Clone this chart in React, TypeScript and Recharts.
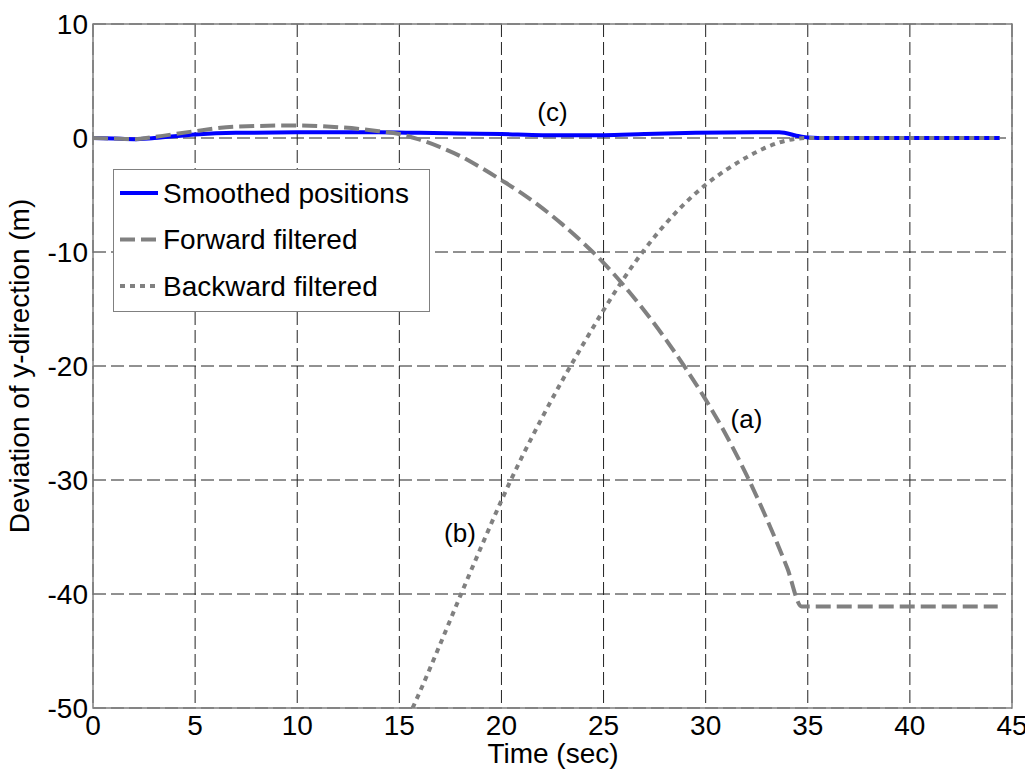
import React from 'react';
import {
  LineChart, Line, XAxis, YAxis, CartesianGrid, Legend, ReferenceArea, ReferenceDot,
} from 'recharts';

const FONT = 'Liberation Sans, Arial, Helvetica, sans-serif';

const xTicks = [0, 5, 10, 15, 20, 25, 30, 35, 40, 45];
const yTicks = [-50, -40, -30, -20, -10, 0, 10];

// Smoothed positions (c)
const smoothedT = [0, 1, 2, 3, 5, 7, 10, 12, 14, 16, 18, 20, 22, 25, 27, 29.5, 33.6, 34.6, 35, 36, 44.4];
const smoothedV = [0, -0.05, -0.1, 0, 0.3, 0.45, 0.5, 0.5, 0.5, 0.45, 0.4, 0.35, 0.25, 0.25, 0.35, 0.45, 0.5, 0.15, 0.05, 0, 0];

// Forward filtered (a)
const forwardT = [0, 1, 2, 3, 5, 7, 10, 12, 14, 15, 16, 17, 18, 19, 20, 21, 22, 23, 24, 25, 26, 27, 28, 29, 30, 31, 32, 33, 34, 34.7, 44.3];
const forwardV = [0, -0.05, -0.1, 0.1, 0.6, 1.0, 1.1, 0.95, 0.6, 0.35, -0.15, -0.8, -1.6, -2.6, -3.7, -4.85, -6.15, -7.6, -9.2, -10.95, -12.95, -15.15, -17.55, -20.15, -22.95, -26.05, -29.55, -33.45, -37.75, -41.1, -41.1];

// Backward filtered (b)
const backwardT = [15.65, 16, 17, 18, 19, 20, 21, 22, 23, 24, 25, 26, 27, 28, 29, 30, 31, 32, 33, 34, 35, 44.4];
const backwardV = [-50, -48.6, -44.4, -40.1, -35.9, -31.8, -28.0, -24.5, -21.2, -18.1, -15.1, -12.3, -9.8, -7.6, -5.7, -4.1, -2.8, -1.7, -0.8, -0.2, 0, 0];

const toRows = (t: number[], v: number[]) => t.map((x, i) => ({ t: x, v: v[i] }));
const smoothedData = toRows(smoothedT, smoothedV);
const forwardData = toRows(forwardT, forwardV);
const backwardData = toRows(backwardT, backwardV);

const legendItems = [
  { name: 'Smoothed positions', color: '#0000FF', dash: undefined as string | undefined },
  { name: 'Forward filtered', color: '#808080', dash: '15 6' },
  { name: 'Backward filtered', color: '#808080', dash: '5 5' },
];

const LegendBox = () => (
  <div style={{ width: 317, height: 143, boxSizing: 'border-box', border: '1px solid #808080', background: '#fff' }}>
    <svg width={315} height={141} style={{ display: 'block' }}>
      {legendItems.map((it, i) => {
        const cy = 23 + i * 46.5;
        return (
          <g key={it.name}>
            <line x1={6} x2={44} y1={cy} y2={cy} stroke={it.color} strokeWidth={4} strokeDasharray={it.dash} />
            <text x={49} y={cy} dy="0.35em" fontSize={28} fontFamily={FONT} fill="#000">{it.name}</text>
          </g>
        );
      })}
    </svg>
  </div>
);

export default function App() {
  return (
    <div style={{ margin: '-8px 0 0 -8px', width: 1033, height: 773 }}>
      <LineChart
        width={1033}
        height={773}
        margin={{ top: 24, right: 21, bottom: 25, left: 33 }}
        style={{ fontFamily: FONT }}
      >
        <CartesianGrid stroke="#222" strokeDasharray="13 5" strokeWidth={1} />
        <XAxis
          type="number"
          dataKey="t"
          domain={[0, 45]}
          ticks={xTicks}
          allowDataOverflow
          height={40}
          axisLine={false}
          tickLine={false}
          tickSize={0}
          tickMargin={7}
          tick={{ fontSize: 28, fill: '#000', fontFamily: FONT }}
          label={{
            content: () => (
              <text x={553} y={763} textAnchor="middle" fontSize={28} fontFamily={FONT} fill="#000">Time (sec)</text>
            ),
          }}
        />
        <YAxis
          type="number"
          dataKey="v"
          domain={[-50, 10]}
          ticks={yTicks}
          allowDataOverflow
          width={60}
          axisLine={false}
          tickLine={false}
          tickSize={0}
          tickMargin={5}
          tick={{ fontSize: 28, fill: '#000', fontFamily: FONT }}
          label={{
            content: () => (
              <text x={29} y={366} transform="rotate(-90, 29, 366)" textAnchor="middle" fontSize={28} fontFamily={FONT} fill="#000">
                Deviation of y-direction (m)
              </text>
            ),
          }}
        />
        <Line data={smoothedData} dataKey="v" type="monotone" stroke="#0000FF" strokeWidth={4} dot={false} isAnimationActive={false} name="Smoothed positions" />
        <Line data={forwardData} dataKey="v" type="monotone" stroke="#808080" strokeWidth={4} strokeDasharray="15 6" dot={false} isAnimationActive={false} name="Forward filtered" />
        <Line data={backwardData} dataKey="v" type="monotone" stroke="#808080" strokeWidth={4} strokeDasharray="5 5" dot={false} isAnimationActive={false} name="Backward filtered" />
        <ReferenceArea x1={0} x2={45} y1={-50} y2={10} fill="none" fillOpacity={0} stroke="#808080" strokeWidth={1.5} />
        <ReferenceDot x={22.5} y={2.3} r={1} fill="none" stroke="none" label={{ value: '(c)', position: 'center', fontSize: 26, fill: '#000', fontFamily: FONT }} />
        <ReferenceDot x={32} y={-24.6} r={1} fill="none" stroke="none" label={{ value: '(a)', position: 'center', fontSize: 26, fill: '#000', fontFamily: FONT }} />
        <ReferenceDot x={17.97} y={-34.6} r={1} fill="none" stroke="none" label={{ value: '(b)', position: 'center', fontSize: 26, fill: '#000', fontFamily: FONT }} />
        <Legend
          layout="vertical"
          align="center"
          verticalAlign="middle"
          wrapperStyle={{ left: 113, top: 169, width: 317, height: 143 }}
          content={() => <LegendBox />}
        />
      </LineChart>
    </div>
  );
}
